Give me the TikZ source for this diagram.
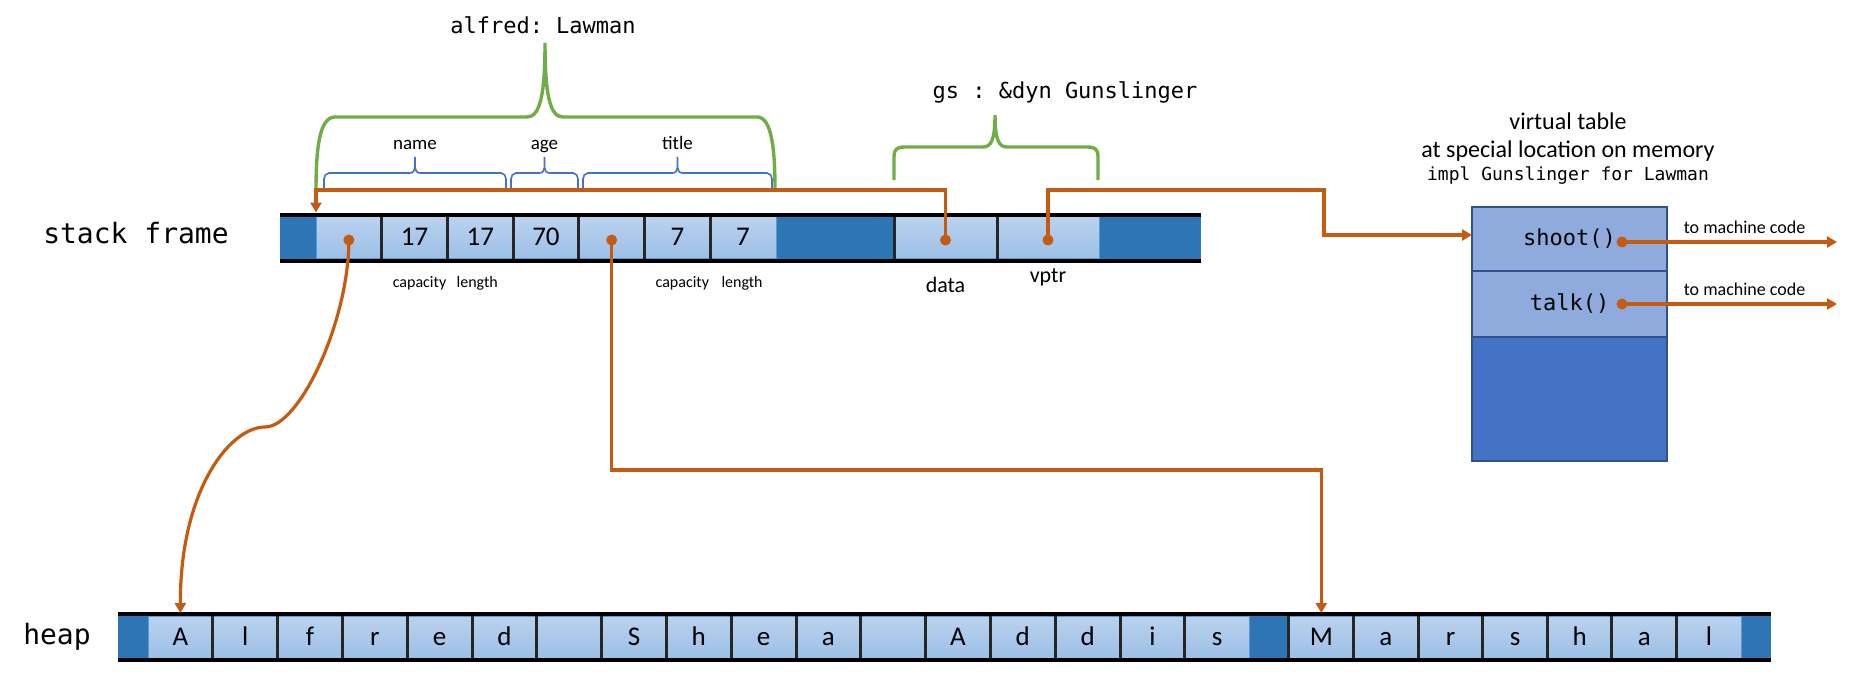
\documentclass[tikz,border=0pt]{standalone}
\usepackage{fontspec}
\setmainfont{Carlito}
\setmonofont{DejaVu Sans Mono}
\usetikzlibrary{arrows.meta}
\usetikzlibrary{positioning}

\definecolor{ptrorange}{HTML}{C55A11}
\definecolor{bracegreen}{HTML}{70AD47}
\definecolor{fieldblue}{HTML}{4472C4}
\definecolor{celldark}{HTML}{2E75B6}
\definecolor{celltop}{HTML}{BAD2EE}
\definecolor{cellbot}{HTML}{9CC0E7}
\definecolor{cellline}{HTML}{5B9BD5}
\definecolor{vtlight}{HTML}{8FAADC}
\definecolor{vtdark}{HTML}{4472C4}
\definecolor{vtline}{HTML}{2F528F}

\begin{document}
\begin{tikzpicture}[x=0.5pt, y=-0.5pt,
        cell/.style={rectangle, draw=cellline, line width=0.4pt, top color=celltop, bottom color=cellbot,
            minimum height=21pt, inner sep=0pt, outer sep=0pt, text height=10pt, text depth=1.6pt,
            font=\fontsize{13.5}{15}\selectfont},
        scell/.style={cell, minimum width=32.85pt},
        hcell/.style={cell, minimum width=32.4pt},
        divider/.style={line width=1.5pt, black!85},
        bar/.style={line width=2pt, black},
        ptr/.style={line width=1.6pt, ptrorange},
        ptrarrow/.style={ptr, -{Triangle[length=5pt,width=5.5pt]}},
        dot/.style={circle, fill=ptrorange, minimum size=5.5pt, inner sep=0pt},
        gbrace/.style={line width=1.7pt, bracegreen},
        bbrace/.style={line width=0.8pt, fieldblue},
        vrow/.style={rectangle, draw=vtline, line width=1pt, fill=vtlight, minimum width=97.5pt,
            inner sep=0pt, outer sep=0pt, font=\ttfamily\fontsize{11}{13}\selectfont},
        arealbl/.style={font=\ttfamily\fontsize{14}{16}\selectfont},
        typelbl/.style={font=\ttfamily\fontsize{11}{13}\selectfont},
        fieldlbl/.style={font=\fontsize{9.5}{11}\selectfont, inner sep=0pt},
        sizelbl/.style={font=\fontsize{8}{10}\selectfont, inner sep=0pt},
        ptrlbl/.style={font=\fontsize{11}{13}\selectfont, inner sep=0pt},
        codelbl/.style={font=\fontsize{9}{11}\selectfont, text=black, inner sep=0pt},
        vtlbl/.style={font=\fontsize{12}{14}\selectfont, inner sep=0pt}]
        \useasboundingbox (0,0) rectangle (1850,674);

        % stack frame
        \fill[celldark] (280,216.5) rectangle (1201,258.5);
        \foreach \t [count=\i] in {{},17,17,70,{},7,7}
            \node[scell] (s\i) at ({316+65.7*\i-32.85},237.5) {\t};
        \node[cell, minimum width=51.5pt] (data) at (945.5,237.5) {};
        \node[cell, minimum width=51pt] (vptr) at (1048,237.5) {};
        \foreach \c in {s2,s3,s4,s5,s6,s7,data,vptr}
            \draw[divider] (\c.north west) -- (\c.south west);
        \draw[bar] (280,214.5) -- (1201,214.5);
        \draw[bar] (280,260.5) -- (1201,260.5);
        \node[arealbl] (stacklbl) at (136,233) {stack frame};

        % heap
        \fill[celldark] (118,616) rectangle (1771,658);
        \foreach \t [count=\i] in {A,l,f,r,e,d,{},S,h,e,a,{},A,d,d,i,s}
            \node[hcell] (h\i) at ({148+64.8*\i-32.4},637) {\t};
        \foreach \t [count=\i from 18] in {M,a,r,s,h,a,l}
            \node[hcell] (h\i) at ({1289+64.6*(\i-17)-32.3},637) {\t};
        \foreach \i in {2,...,24}
            \draw[divider] (h\i.north west) -- (h\i.south west);
        \draw[bar] (118,614) -- (1771,614);
        \draw[bar] (118,660) -- (1771,660);
        \node[arealbl] (heaplbl) at (57,637) {heap};

        % sizes under the strings
        \node[sizelbl, anchor=base] (cap1) at ([xshift=2.5pt,yshift=-14.5pt]s2.south) {capacity};
        \node[sizelbl, anchor=base] (len1) at ([xshift=-1.5pt,yshift=-14.5pt]s3.south) {length};
        \node[sizelbl, anchor=base] (cap2) at ([xshift=2.5pt,yshift=-14.5pt]s6.south) {capacity};
        \node[sizelbl, anchor=base] (len2) at ([xshift=-0.5pt,yshift=-14.5pt]s7.south) {length};
        \node[ptrlbl, anchor=base] (datalbl) at ([yshift=-17.2pt]data.south) {data};
        \node[ptrlbl, anchor=base] (vptrlbl) at ([yshift=-12.2pt]vptr.south) {vptr};

        % fields of alfred
        \foreach \a/\b/\t in {324/506/name,511/578/age,583/772/title}{
            \pgfmathsetmacro\m{(\a+\b)/2}
            \draw[bbrace] (\a,188) -- (\a,179) to[out=90,in=180] ({\a+5},173) -- ({\m-5},173)
                to[out=0,in=-90] (\m,157) to[out=-90,in=180] ({\m+5},173) -- ({\b-5},173)
                to[out=0,in=90] (\b,179) -- (\b,188);
            \node[fieldlbl, anchor=base] at (\m,149) {\t};
        }

        % green braces
        \draw[gbrace] (316,191) .. controls (316,150) and (319,117) .. (335,117) -- (527,117)
            .. controls (540,117) and (545,95) .. (545,43) .. controls (545,95) and (550,117) .. (563,117)
            -- (757,117) .. controls (772,117) and (775,150) .. (775,191);
        \node[typelbl] (alfred) at (543,25) {alfred: Lawman};
        \draw[gbrace] (894,180) -- (894,157) .. controls (894,149) and (897,147) .. (905,147) -- (983,147)
            .. controls (991,147) and (995,140) .. (995,115) .. controls (995,140) and (999,147) .. (1007,147)
            -- (1087,147) .. controls (1095,147) and (1098,149) .. (1098,157) -- (1098,180);
        \node[typelbl] (gs) at (1065,92) {gs : \&dyn Gunslinger};

        % virtual table
        \node[vtlbl] (vtitle) at (1568,121) {virtual table};
        \node[vtlbl] (vloc) at (1568,151) {at special location on memory};
        \node[font=\ttfamily\fontsize{9}{11}\selectfont] (vimpl) at (1568,176) {impl Gunslinger for Lawman};
        \node[vrow, minimum height=32pt] (vt1) at (1569.5,239) {shoot()};
        \node[vrow, minimum height=33pt, below=0pt of vt1] (vt2) {talk()};
        \node[vrow, minimum height=62pt, fill=vtdark, below=0pt of vt2] (vt3) {};

        % pointers
        \node[dot] (ps1) at ([yshift=-1.25pt]s1.center) {};
        \node[dot] (ps5) at ([yshift=-1.25pt]s5.center) {};
        \node[dot] (pdata) at ([yshift=-1.25pt]data.center) {};
        \node[dot] (pvptr) at ([yshift=-1.25pt]vptr.center) {};
        \node[dot] (pshoot) at ([xshift=26.25pt,yshift=-1.5pt]vt1.center) {};
        \node[dot] (ptalk) at ([xshift=26.25pt]vt2.center) {};
        \coordinate (bend) at (265,427);
        \coordinate (mc1) at (1837,242);
        \coordinate (mc2) at (1837,304);

        \draw[ptrarrow] (pdata.center) -- ++(0,-50) -| ([yshift=2pt]s1.north west);
        \draw[ptrarrow] (pvptr.center) -- ++(0,-50) -- ++(276,0) |- ([yshift=2pt]vt1.west);
        \draw[ptrarrow] (ps1.center) .. controls (349,320) and (300,427) .. (bend)
            .. controls (230,427) and (180,490) .. ([yshift=1.5pt]h1.north);
        \draw[ptrarrow] (ps5.center) -- ++(0,230) -| ([yshift=1.5pt]h18.north);
        \draw[ptrarrow] (pshoot.center) -- node[codelbl, pos=0.57, above=3.5pt] {to machine code} (mc1);
        \draw[ptrarrow] (ptalk.center) -- node[codelbl, pos=0.57, above=3.5pt] {to machine code} (mc2);
    \end{tikzpicture}
\end{document}
